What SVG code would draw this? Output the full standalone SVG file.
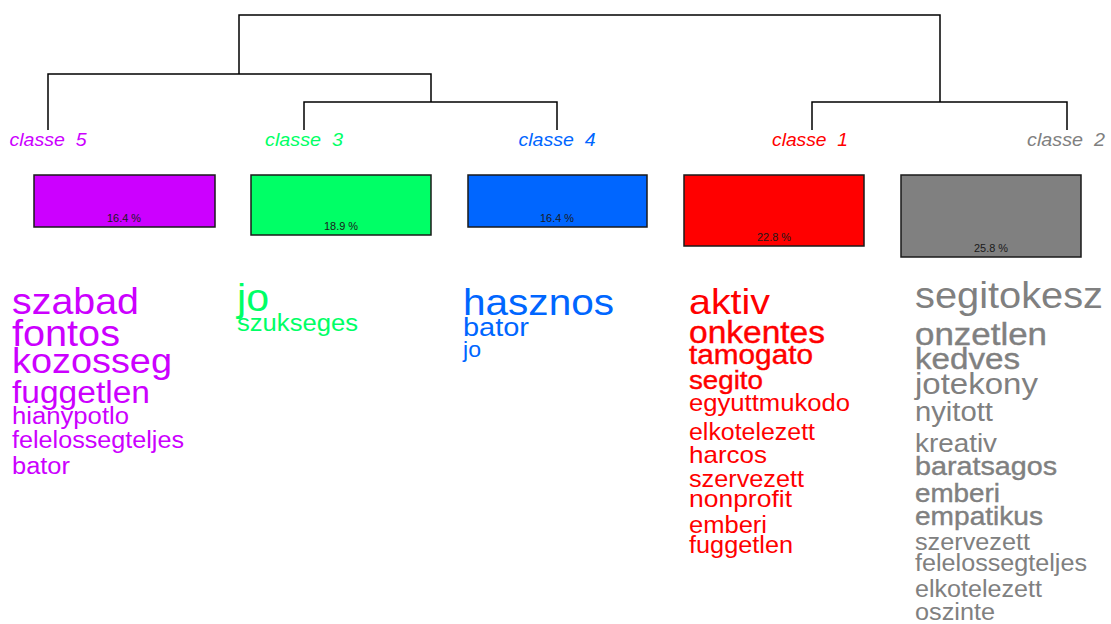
<svg xmlns="http://www.w3.org/2000/svg" width="1111" height="624" viewBox="0 0 1111 624">
<style>
text{font-family:"Liberation Sans",Arial,sans-serif;}
.lbl{font-style:italic;font-size:18px;text-anchor:middle;}
.pct{font-size:10.5px;text-anchor:middle;fill:#1a1a1a;}
.box{stroke:#1a1a1a;stroke-width:1.5;}
.c5{fill:#CC00FF;} .c3{fill:#00FF66;} .c4{fill:#0066FF;} .c1{fill:#FF0000;} .c2{fill:#808080;}
.h1{stroke:#FF0000;stroke-width:0.4;}
.h2{stroke:#808080;stroke-width:0.4;}
.edge{fill:none;stroke:#000;stroke-width:1.5;}
</style>
<rect width="1111" height="624" fill="#fff"/>
<g id="connectors">
<path class="edge" d="M239 74V15H940V102"/>
<path class="edge" d="M48 130V74H431V102"/>
<path class="edge" d="M304 130V102H557V130"/>
<path class="edge" d="M812 130V102H1067V130"/>
</g>
<g id="classe5">
<text class="lbl c5" x="48" y="146" textLength="77" lengthAdjust="spacingAndGlyphs" xml:space="preserve">classe  5</text>
<rect class="box c5" x="34" y="175" width="181" height="52"/>
<text class="pct" x="124" y="222" textLength="34" lengthAdjust="spacingAndGlyphs">16.4 %</text>
<text class="c5" x="12" y="314" font-size="36" textLength="127" lengthAdjust="spacingAndGlyphs">szabad</text>
<text class="c5" x="12" y="346" font-size="36" textLength="108" lengthAdjust="spacingAndGlyphs">fontos</text>
<text class="c5" x="12" y="373" font-size="35" textLength="160" lengthAdjust="spacingAndGlyphs">kozosseg</text>
<text class="c5" x="12" y="403" font-size="31" textLength="138" lengthAdjust="spacingAndGlyphs">fuggetlen</text>
<text class="c5" x="12" y="424" font-size="23.5" textLength="117" lengthAdjust="spacingAndGlyphs">hianypotlo</text>
<text class="c5" x="12" y="448" font-size="23.5" textLength="172" lengthAdjust="spacingAndGlyphs">felelossegteljes</text>
<text class="c5" x="12" y="474" font-size="23.5" textLength="58" lengthAdjust="spacingAndGlyphs">bator</text>
</g>
<g id="classe3">
<text class="lbl c3" x="304" y="146" textLength="78" lengthAdjust="spacingAndGlyphs" xml:space="preserve">classe  3</text>
<rect class="box c3" x="251" y="175" width="180" height="60"/>
<text class="pct" x="341" y="230" textLength="34" lengthAdjust="spacingAndGlyphs">18.9 %</text>
<text class="c3" x="237" y="311" font-size="39" textLength="32" lengthAdjust="spacingAndGlyphs">jo</text>
<text class="c3" x="237" y="331" font-size="23.5" textLength="121" lengthAdjust="spacingAndGlyphs">szukseges</text>
</g>
<g id="classe4">
<text class="lbl c4" x="557" y="146" textLength="77" lengthAdjust="spacingAndGlyphs" xml:space="preserve">classe  4</text>
<rect class="box c4" x="468" y="175" width="179" height="52"/>
<text class="pct" x="557" y="222" textLength="34" lengthAdjust="spacingAndGlyphs">16.4 %</text>
<text class="c4" x="463" y="315" font-size="37" textLength="151" lengthAdjust="spacingAndGlyphs">hasznos</text>
<text class="c4" x="463" y="336" font-size="26.5" textLength="66" lengthAdjust="spacingAndGlyphs">bator</text>
<text class="c4" x="463" y="357" font-size="21.5" textLength="18" lengthAdjust="spacingAndGlyphs">jo</text>
</g>
<g id="classe1">
<text class="lbl c1" x="810" y="146" textLength="76" lengthAdjust="spacingAndGlyphs" xml:space="preserve">classe  1</text>
<rect class="box c1" x="684" y="175" width="180" height="71"/>
<text class="pct" x="774" y="241" textLength="34" lengthAdjust="spacingAndGlyphs">22.8 %</text>
<text class="c1" x="689" y="314" font-size="35" textLength="81" lengthAdjust="spacingAndGlyphs">aktiv</text>
<text class="c1 h1" x="689" y="343" font-size="31" textLength="136" lengthAdjust="spacingAndGlyphs">onkentes</text>
<text class="c1 h1" x="689" y="364" font-size="27" textLength="124" lengthAdjust="spacingAndGlyphs">tamogato</text>
<text class="c1 h1" x="689" y="389" font-size="25" textLength="74" lengthAdjust="spacingAndGlyphs">segito</text>
<text class="c1" x="689" y="411" font-size="23.5" textLength="161" lengthAdjust="spacingAndGlyphs">egyuttmukodo</text>
<text class="c1" x="689" y="440" font-size="23.5" textLength="126" lengthAdjust="spacingAndGlyphs">elkotelezett</text>
<text class="c1" x="689" y="463" font-size="24" textLength="78" lengthAdjust="spacingAndGlyphs">harcos</text>
<text class="c1" x="689" y="487" font-size="23.5" textLength="115" lengthAdjust="spacingAndGlyphs">szervezett</text>
<text class="c1" x="689" y="507" font-size="24" textLength="103" lengthAdjust="spacingAndGlyphs">nonprofit</text>
<text class="c1" x="689" y="533" font-size="23.5" textLength="78" lengthAdjust="spacingAndGlyphs">emberi</text>
<text class="c1" x="689" y="553" font-size="23.5" textLength="104" lengthAdjust="spacingAndGlyphs">fuggetlen</text>
</g>
<g id="classe2">
<text class="lbl c2" x="1066" y="146" textLength="78" lengthAdjust="spacingAndGlyphs" xml:space="preserve">classe  2</text>
<rect class="box c2" x="901" y="175" width="180" height="82"/>
<text class="pct" x="991" y="252" textLength="34" lengthAdjust="spacingAndGlyphs">25.8 %</text>
<text class="c2" x="915" y="308" font-size="36" textLength="188" lengthAdjust="spacingAndGlyphs">segitokesz</text>
<text class="c2 h2" x="915" y="345" font-size="32" textLength="132" lengthAdjust="spacingAndGlyphs">onzetlen</text>
<text class="c2 h2" x="915" y="369" font-size="30" textLength="105" lengthAdjust="spacingAndGlyphs">kedves</text>
<text class="c2" x="915" y="394" font-size="30" textLength="123" lengthAdjust="spacingAndGlyphs">jotekony</text>
<text class="c2" x="915" y="421" font-size="27" textLength="78" lengthAdjust="spacingAndGlyphs">nyitott</text>
<text class="c2" x="915" y="452" font-size="26" textLength="82" lengthAdjust="spacingAndGlyphs">kreativ</text>
<text class="c2 h2" x="915" y="475" font-size="26.5" textLength="142" lengthAdjust="spacingAndGlyphs">baratsagos</text>
<text class="c2 h2" x="915" y="502" font-size="26" textLength="85" lengthAdjust="spacingAndGlyphs">emberi</text>
<text class="c2 h2" x="915" y="525" font-size="26" textLength="128" lengthAdjust="spacingAndGlyphs">empatikus</text>
<text class="c2" x="915" y="550" font-size="23.5" textLength="115" lengthAdjust="spacingAndGlyphs">szervezett</text>
<text class="c2" x="915" y="571" font-size="23.5" textLength="172" lengthAdjust="spacingAndGlyphs">felelossegteljes</text>
<text class="c2" x="915" y="597" font-size="23.5" textLength="127" lengthAdjust="spacingAndGlyphs">elkotelezett</text>
<text class="c2" x="915" y="620" font-size="23.5" textLength="80" lengthAdjust="spacingAndGlyphs">oszinte</text>
</g>
</svg>
